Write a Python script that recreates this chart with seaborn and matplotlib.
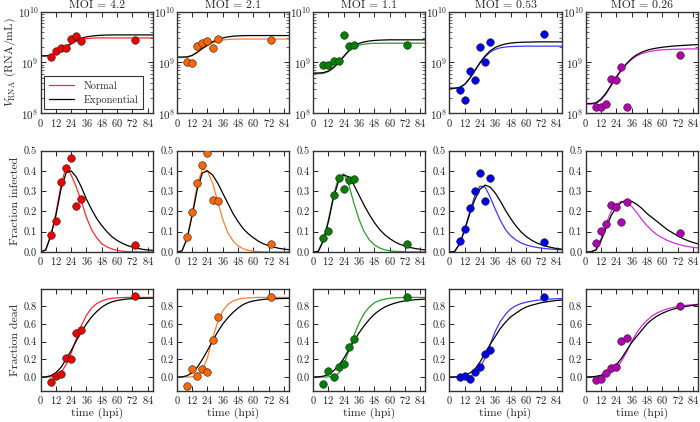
import numpy as np
import pandas as pd
import matplotlib
matplotlib.use("Agg")
import matplotlib.pyplot as plt
import seaborn as sns

# 数据：实验点时间 (hpi) 与拟合曲线时间网格
t_pts = [8, 12, 16, 20, 24, 28, 32, 74]
t_fit = [0, 4, 8, 12, 16, 20, 24, 28, 32, 36, 40, 44, 48, 52, 56, 60, 64, 68, 72, 76, 80, 84, 88]

moi = ["4.2", "2.1", "1.1", "0.53", "0.26"]
colors = ["#ee0000", "#ff6600", "#007f00", "#0000e6", "#b000b0"]
line_colors = ["#ff2a2a", "#ff7f2a", "#2a9a2a", "#3a3aff", "#d82ad8"]

# V_RNA (x 1e9 RNA/mL)
vrna_pts = [
    [1.29, 1.66, 1.9, 1.94, 2.96, 3.4, 2.6, 2.75],
    [1.04, 0.98, 2.09, 2.4, 2.66, 1.94, 2.88, 2.75],
    [0.89, 0.91, 1.07, 1.09, 3.5, 2.09, 2.25, 2.25],
    [0.29, 0.178, 0.68, 0.46, 2.03, 1.04, 2.5, 3.66],
    [0.132, 0.132, 0.151, 0.48, 0.46, 0.81, 0.132, 1.41],
]
vrna_norm = [
    [1.35, 1.35, 1.37, 1.48, 1.7, 1.98, 2.3, 2.6, 2.82, 2.95, 3.02, 3.05, 3.05, 3.05, 3.05, 3.05, 3.05, 3.05, 3.05, 3.05, 3.05, 3.05, 3.05],
    [1.25, 1.25, 1.26, 1.36, 1.57, 1.87, 2.15, 2.45, 2.65, 2.78, 2.85, 2.88, 2.9, 2.9, 2.9, 2.9, 2.9, 2.9, 2.9, 2.9, 2.9, 2.9, 2.9],
    [0.6, 0.6, 0.61, 0.66, 0.78, 0.98, 1.3, 1.68, 2.0, 2.2, 2.3, 2.36, 2.39, 2.4, 2.4, 2.4, 2.4, 2.4, 2.4, 2.4, 2.4, 2.4, 2.4],
    [0.31, 0.31, 0.32, 0.37, 0.49, 0.69, 0.98, 1.3, 1.6, 1.82, 1.95, 2.02, 2.06, 2.08, 2.09, 2.1, 2.1, 2.1, 2.1, 2.1, 2.1, 2.1, 2.1],
    [0.15, 0.15, 0.155, 0.18, 0.24, 0.35, 0.5, 0.7, 0.93, 1.15, 1.35, 1.5, 1.6, 1.68, 1.74, 1.78, 1.8, 1.82, 1.83, 1.84, 1.85, 1.85, 1.85],
]
vrna_exp = [
    [1.35, 1.35, 1.37, 1.5, 1.75, 2.05, 2.4, 2.75, 3.0, 3.2, 3.32, 3.4, 3.45, 3.48, 3.5, 3.5, 3.5, 3.5, 3.5, 3.5, 3.5, 3.5, 3.5],
    [1.28, 1.28, 1.29, 1.38, 1.6, 1.9, 2.2, 2.55, 2.85, 3.05, 3.2, 3.3, 3.35, 3.38, 3.4, 3.4, 3.4, 3.4, 3.4, 3.4, 3.4, 3.4, 3.4],
    [0.62, 0.62, 0.63, 0.68, 0.8, 1.0, 1.32, 1.72, 2.1, 2.38, 2.55, 2.65, 2.72, 2.76, 2.78, 2.8, 2.8, 2.8, 2.8, 2.8, 2.8, 2.8, 2.8],
    [0.31, 0.31, 0.32, 0.37, 0.49, 0.7, 1.0, 1.35, 1.7, 1.98, 2.18, 2.32, 2.41, 2.47, 2.5, 2.52, 2.53, 2.55, 2.55, 2.55, 2.55, 2.55, 2.55],
    [0.155, 0.155, 0.16, 0.19, 0.25, 0.36, 0.52, 0.72, 0.95, 1.2, 1.42, 1.6, 1.74, 1.85, 1.93, 2.0, 2.05, 2.1, 2.14, 2.17, 2.2, 2.23, 2.25],
]

# 感染比例
inf_pts = [
    [0.082, 0.154, 0.344, 0.415, 0.463, 0.228, 0.262, 0.032],
    [0.072, 0.195, 0.339, 0.431, 0.487, 0.257, 0.251, 0.040],
    [0.069, 0.101, 0.283, 0.363, 0.313, 0.355, 0.36, 0.039],
    [0.053, 0.111, 0.217, 0.299, 0.389, 0.251, 0.363, 0.048],
    [0.043, 0.103, 0.138, 0.232, 0.222, 0.146, 0.246, 0.093],
]
inf_norm = [
    [0, 0.01, 0.08, 0.19, 0.33, 0.42, 0.38, 0.32, 0.25, 0.17, 0.11, 0.07, 0.04, 0.025, 0.015, 0.008, 0.004, 0.002, 0.001, 0, 0, 0, 0],
    [0, 0.005, 0.07, 0.19, 0.33, 0.41, 0.40, 0.34, 0.25, 0.16, 0.095, 0.055, 0.03, 0.016, 0.008, 0.004, 0.002, 0.001, 0, 0, 0, 0, 0],
    [0, 0.003, 0.06, 0.16, 0.28, 0.37, 0.385, 0.33, 0.24, 0.16, 0.10, 0.06, 0.035, 0.02, 0.011, 0.006, 0.003, 0.002, 0.001, 0, 0, 0, 0],
    [0, 0.002, 0.04, 0.11, 0.2, 0.28, 0.325, 0.32, 0.27, 0.21, 0.155, 0.11, 0.08, 0.06, 0.045, 0.035, 0.028, 0.023, 0.019, 0.016, 0.014, 0.012, 0.011],
    [0, 0, 0.01, 0.065, 0.14, 0.2, 0.235, 0.25, 0.245, 0.225, 0.195, 0.16, 0.13, 0.105, 0.085, 0.07, 0.057, 0.047, 0.039, 0.032, 0.027, 0.023, 0.02],
]
inf_exp = [
    [0, 0.01, 0.08, 0.18, 0.31, 0.39, 0.40, 0.37, 0.32, 0.26, 0.21, 0.165, 0.13, 0.10, 0.075, 0.057, 0.043, 0.032, 0.024, 0.018, 0.013, 0.01, 0.008],
    [0, 0.005, 0.065, 0.18, 0.31, 0.39, 0.40, 0.38, 0.34, 0.29, 0.24, 0.19, 0.15, 0.115, 0.09, 0.07, 0.053, 0.04, 0.031, 0.024, 0.018, 0.014, 0.011],
    [0, 0.003, 0.055, 0.15, 0.27, 0.35, 0.38, 0.37, 0.33, 0.28, 0.23, 0.185, 0.145, 0.112, 0.086, 0.066, 0.05, 0.038, 0.029, 0.022, 0.017, 0.013, 0.01],
    [0, 0.002, 0.04, 0.11, 0.19, 0.26, 0.31, 0.33, 0.32, 0.29, 0.25, 0.205, 0.165, 0.13, 0.1, 0.077, 0.06, 0.046, 0.036, 0.028, 0.022, 0.017, 0.014],
    [0, 0.001, 0.01, 0.055, 0.12, 0.18, 0.22, 0.245, 0.255, 0.25, 0.235, 0.215, 0.19, 0.17, 0.15, 0.13, 0.11, 0.095, 0.08, 0.067, 0.056, 0.047, 0.04],
]

# 死亡比例
dead_pts = [
    [-0.06, 0.011, 0.03, 0.217, 0.209, 0.497, 0.527, 0.916],
    [-0.10, 0.086, 0.007, 0.093, 0.052, 0.422, 0.673, 0.905],
    [-0.075, 0.067, 0.0, 0.108, 0.153, 0.34, 0.43, 0.905],
    [0.0, 0.007, -0.019, 0.06, 0.112, 0.265, 0.307, 0.905],
    [-0.03, -0.019, 0.041, 0.101, 0.116, 0.407, 0.441, 0.807],
]
dead_norm = [
    [0, 0, 0.002, 0.012, 0.05, 0.14, 0.27, 0.43, 0.58, 0.70, 0.78, 0.83, 0.86, 0.88, 0.89, 0.895, 0.898, 0.9, 0.9, 0.9, 0.9, 0.9, 0.9],
    [0, 0, 0, 0.003, 0.015, 0.07, 0.22, 0.44, 0.62, 0.75, 0.82, 0.86, 0.88, 0.89, 0.895, 0.898, 0.9, 0.9, 0.9, 0.9, 0.9, 0.9, 0.9],
    [0, 0, 0, 0.002, 0.01, 0.04, 0.14, 0.3, 0.47, 0.61, 0.72, 0.79, 0.84, 0.865, 0.88, 0.89, 0.895, 0.898, 0.9, 0.9, 0.9, 0.9, 0.9],
    [0, 0, 0, 0.002, 0.01, 0.035, 0.1, 0.22, 0.37, 0.52, 0.63, 0.71, 0.77, 0.805, 0.83, 0.845, 0.857, 0.866, 0.873, 0.878, 0.882, 0.885, 0.887],
    [0, 0, 0.002, 0.008, 0.02, 0.05, 0.1, 0.18, 0.28, 0.4, 0.5, 0.58, 0.64, 0.69, 0.725, 0.75, 0.77, 0.785, 0.797, 0.806, 0.813, 0.818, 0.822],
]
dead_exp = [
    [0, 0.002, 0.015, 0.05, 0.11, 0.2, 0.3, 0.41, 0.51, 0.6, 0.68, 0.74, 0.79, 0.825, 0.85, 0.865, 0.875, 0.882, 0.886, 0.888, 0.89, 0.891, 0.892],
    [0, 0.002, 0.015, 0.05, 0.11, 0.2, 0.3, 0.41, 0.51, 0.6, 0.67, 0.73, 0.78, 0.82, 0.845, 0.86, 0.87, 0.878, 0.882, 0.885, 0.887, 0.888, 0.889],
    [0, 0.002, 0.01, 0.03, 0.07, 0.13, 0.21, 0.31, 0.41, 0.5, 0.58, 0.65, 0.71, 0.755, 0.79, 0.815, 0.835, 0.85, 0.86, 0.868, 0.874, 0.878, 0.881],
    [0, 0.001, 0.007, 0.02, 0.045, 0.09, 0.17, 0.27, 0.37, 0.46, 0.55, 0.62, 0.68, 0.72, 0.76, 0.79, 0.81, 0.825, 0.84, 0.85, 0.858, 0.865, 0.87],
    [0, 0.002, 0.008, 0.02, 0.05, 0.09, 0.14, 0.21, 0.3, 0.39, 0.46, 0.53, 0.6, 0.65, 0.69, 0.72, 0.745, 0.765, 0.78, 0.792, 0.802, 0.81, 0.816],
]

sns.set_theme(style="ticks")
plt.rcParams["font.family"] = ["cmr10", "DejaVu Serif"]
plt.rcParams["mathtext.fontset"] = "cm"
plt.rcParams["axes.formatter.use_mathtext"] = True
plt.rcParams["axes.unicode_minus"] = False
plt.rcParams["xtick.direction"] = "in"
plt.rcParams["ytick.direction"] = "in"
plt.rcParams["xtick.top"] = True
plt.rcParams["ytick.right"] = True
plt.rcParams["axes.edgecolor"] = "#333333"
plt.rcParams["axes.linewidth"] = 1.0

fig, axes = plt.subplots(3, 5, figsize=(7, 4.22), dpi=100)
fig.subplots_adjust(left=0.058, right=0.997, bottom=0.074, top=0.972, wspace=0.215, hspace=0.37)

rows = [
    (vrna_pts, vrna_norm, vrna_exp, 1e9),
    (inf_pts, inf_norm, inf_exp, 1.0),
    (dead_pts, dead_norm, dead_exp, 1.0),
]

for r, (pts, norm, expo, scale) in enumerate(rows):
    for c in range(5):
        ax = axes[r, c]
        fit = pd.DataFrame({"t": t_fit,
                            "norm": np.array(norm[c]) * scale,
                            "exp": np.array(expo[c]) * scale})
        obs = pd.DataFrame({"t": t_pts, "y": np.array(pts[c]) * scale})
        sns.lineplot(data=fit, x="t", y="norm", ax=ax, color=line_colors[c], lw=0.9, label="Normal")
        sns.lineplot(data=fit, x="t", y="exp", ax=ax, color="black", lw=0.9, label="Exponential")
        sns.scatterplot(data=obs, x="t", y="y", ax=ax, color=colors[c], s=30,
                        edgecolor="#222222", linewidth=0.4, zorder=5)
        ax.set_xlim(0, 88)
        ax.set_xticks(range(0, 85, 12))
        ax.tick_params(labelsize=7.5, length=3.5, width=0.7, pad=2.5, colors="#222222")
        ax.tick_params(which="minor", length=2, width=0.5)
        ax.set_xlabel("")
        ax.set_ylabel("")
        if r == 0:
            ax.set_yscale("log")
            ax.set_ylim(1e8, 1e10)
            ax.tick_params(axis="y", labelsize=8, pad=1.5)
            ax.set_title("MOI = " + moi[c], fontsize=8.5, pad=2.5)
        elif r == 1:
            ax.set_ylim(0, 0.5)
            ax.set_yticks([0, 0.1, 0.2, 0.3, 0.4, 0.5])
            ax.yaxis.set_major_formatter(matplotlib.ticker.FormatStrFormatter("%.1f"))
        else:
            ax.set_ylim(-0.155, 0.99)
            ax.set_yticks([0, 0.2, 0.4, 0.6, 0.8])
            ax.yaxis.set_major_formatter(matplotlib.ticker.FormatStrFormatter("%.1f"))
            ax.set_xlabel("time (hpi)", fontsize=8.5, labelpad=1)
        if r == 0 and c == 0:
            leg = ax.legend(loc="lower left", fontsize=7.5, frameon=True, fancybox=False,
                            edgecolor="black", handlelength=2.4, borderaxespad=0.35,
                            borderpad=0.45, labelspacing=0.4, handletextpad=0.9)
            leg.get_frame().set_linewidth(0.8)
        else:
            ax.get_legend().remove()

axes[0, 0].set_ylabel(r"$V_{\mathrm{RNA}}$ (RNA/mL)", fontsize=8.5, labelpad=0)
axes[1, 0].set_ylabel("Fraction infected", fontsize=8.5, labelpad=3)
axes[2, 0].set_ylabel("Fraction dead", fontsize=8.5, labelpad=3)

plt.savefig("out.png", dpi=100)
